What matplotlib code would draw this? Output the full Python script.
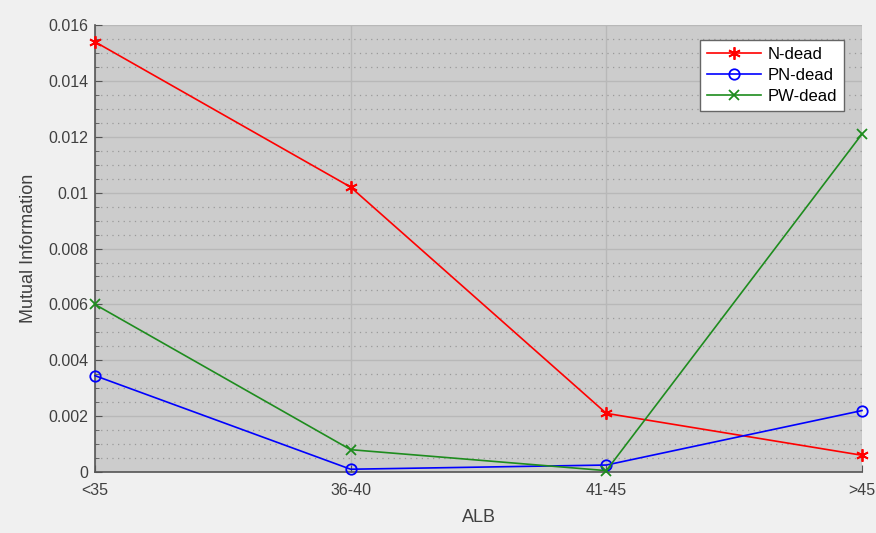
import matplotlib
matplotlib.use("Agg")
import matplotlib.pyplot as plt
from matplotlib.ticker import MultipleLocator

plt.rcParams['font.family'] = ['Liberation Sans', 'DejaVu Sans']

categories = ['<35', '36-40', '41-45', '>45']
n_dead = [0.0154, 0.0102, 0.0021, 0.0006]
pn_dead = [0.00345, 0.0001, 0.00025, 0.0022]
pw_dead = [0.0060, 0.0008, 0.00005, 0.0121]

fig = plt.figure(figsize=(8.76, 5.33), dpi=100, facecolor='#f0f0f0')
ax = fig.add_axes([0.1084, 0.1144, 0.8756, 0.8386])
ax.set_facecolor('#cccccc')

x = list(range(len(categories)))
asterisk = (6, 2, 0)
ax.plot(x, n_dead, color='#ff0000', marker=asterisk, markersize=9, mew=1.3, lw=1.2,
        label='N-dead', clip_on=False, zorder=3)
ax.plot(x, pn_dead, color='#0000ff', marker='o', markersize=7.5, mfc='none', mew=1.3, lw=1.2,
        label='PN-dead', clip_on=False, zorder=3)
ax.plot(x, pw_dead, color='#1e8c1e', marker='x', markersize=7, mew=1.3, lw=1.2,
        label='PW-dead', clip_on=False, zorder=3)

ax.set_xlim(0, 3)
ax.set_ylim(0, 0.016)
ax.set_xticks(x)
ax.set_xticklabels(categories)
ax.yaxis.set_minor_locator(MultipleLocator(0.0005))
ax.set_yticks([0, 0.002, 0.004, 0.006, 0.008, 0.01, 0.012, 0.014, 0.016])
ax.set_yticklabels(['0', '0.002', '0.004', '0.006', '0.008', '0.01', '0.012', '0.014', '0.016'])

ax.grid(True, which='major', color='#b8b8b8', lw=1.0)
ax.grid(True, which='minor', axis='y', color='#9a9a9a', lw=0.9, linestyle=(0, (1, 3.5)))
ax.set_axisbelow(True)

for s in ['top', 'right']:
    ax.spines[s].set_visible(False)
for s in ['left', 'bottom']:
    ax.spines[s].set_color('#555555')
    ax.spines[s].set_linewidth(1.2)

ax.tick_params(which='both', direction='in', colors='#555555', labelcolor='#404040', labelsize=11.5)
ax.tick_params(which='major', length=5)
ax.tick_params(which='minor', length=3)
ax.tick_params(axis='x', pad=8)
ax.tick_params(axis='y', pad=5)

ax.set_xlabel('ALB', fontsize=13, color='#404040', labelpad=8)
ax.set_ylabel('Mutual Information', fontsize=13, color='#404040', labelpad=8)

leg = ax.legend(loc='upper right', bbox_to_anchor=(0.977, 0.967), fontsize=12, frameon=True,
                fancybox=False, edgecolor='#666666', facecolor='white', framealpha=1,
                handlelength=3.2, borderpad=0.45, labelspacing=0.35, handletextpad=0.4,
                borderaxespad=0.0)
leg.get_frame().set_linewidth(1.0)

fig.savefig('out.png', dpi=100, facecolor=fig.get_facecolor())
